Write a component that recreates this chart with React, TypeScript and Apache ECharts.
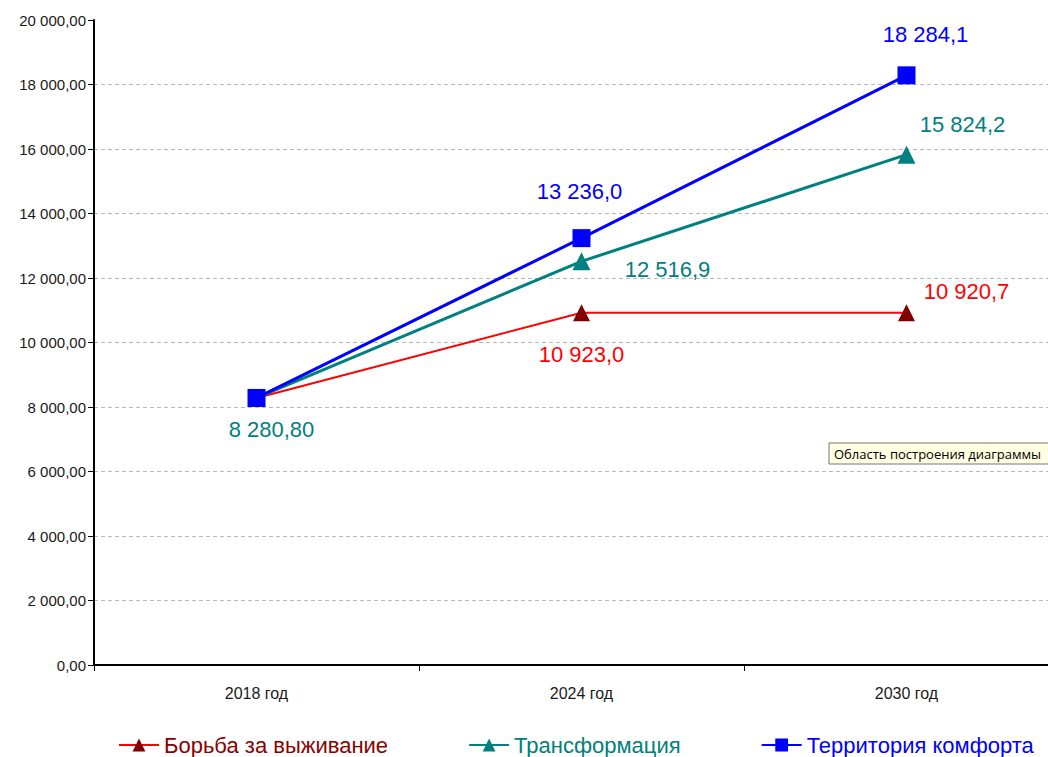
import React, { useEffect, useRef } from "react";
import * as echarts from "echarts";

const categories = ["2018 год", "2024 год", "2030 год"];
const survival = [8280.8, 10923.0, 10920.7];
const transformation = [8280.8, 12516.9, 15824.2];
const comfort = [8280.8, 13236.0, 18284.1];
const seriesNames = ["Борьба за выживание", "Трансформация", "Территория комфорта"];
const tooltipText = "Область построения диаграммы";

function fmt(v: number, d: number): string {
  const s = v.toFixed(d);
  const [i, f] = s.split(".");
  const ii = i.replace(/\B(?=(\d{3})+(?!\d))/g, " ");
  return f !== undefined ? ii + "," + f : ii;
}

const labelFont = { fontFamily: "Liberation Sans, Arial, sans-serif", fontSize: 22 };

function pt(value: number, color: string, offset: [number, number] | null, decimals = 1) {
  return {
    value,
    label: offset
      ? {
          show: true,
          position: "inside",
          offset,
          color,
          ...labelFont,
          formatter: () => fmt(value, decimals),
        }
      : { show: false },
  };
}

export default function App() {
  const ref = useRef<HTMLDivElement>(null);
  useEffect(() => {
    document.body.style.margin = "0";
    const chart = echarts.init(ref.current!, null, { renderer: "svg" });
    const red = "#ff0000";
    const teal = "#008080";
    const blue = "#0000ff";
    chart.setOption({
      animation: false,
      backgroundColor: "#ffffff",
      grid: { left: 94, top: 20, bottom: 92, right: 0, containLabel: false },
      xAxis: {
        type: "category",
        data: categories,
        boundaryGap: true,
        axisLine: { lineStyle: { color: "#000", width: 2 } },
        axisTick: { show: true, length: 6, alignWithLabel: false, lineStyle: { color: "#000" } },
        axisLabel: {
          margin: 20,
          color: "#1a1a1a",
          fontFamily: "Liberation Sans, Arial",
          fontSize: 16,
        },
        splitLine: { show: false },
      },
      yAxis: {
        type: "value",
        min: 0,
        max: 20000,
        interval: 2000,
        axisLine: { show: true, lineStyle: { color: "#000", width: 2 } },
        axisTick: { show: true, length: 6, lineStyle: { color: "#000" } },
        axisLabel: {
          margin: 8,
          color: "#1a1a1a",
          fontFamily: "Liberation Sans, Arial",
          fontSize: 15,
          formatter: (v: number) => fmt(v, 2),
        },
        splitLine: {
          show: true,
          showMaxLine: false,
          lineStyle: { color: "#b8b8b8", type: [4, 3], width: 1 },
        },
      },
      legend: {
        left: 118,
        top: 733,
        padding: 0,
        itemGap: 80,
        itemWidth: 40,
        itemHeight: 16,
        textStyle: { fontFamily: "Liberation Sans, Arial", fontSize: 22, lineHeight: 24 },
        data: [
          { name: seriesNames[0], textStyle: { color: "#8b0000" } },
          { name: seriesNames[1], textStyle: { color: "#00807a" } },
          { name: seriesNames[2], textStyle: { color: "#0000ff" } },
        ],
      },
      series: [
        {
          name: seriesNames[0],
          type: "line",
          symbol: "triangle",
          symbolSize: 17,
          lineStyle: { color: red, width: 2 },
          itemStyle: { color: "#800000" },
          data: [
            pt(survival[0], red, null),
            pt(survival[1], red, [0, 42]),
            pt(survival[2], red, [60, -21]),
          ],
        },
        {
          name: seriesNames[1],
          type: "line",
          symbol: "triangle",
          symbolSize: 18,
          lineStyle: { color: teal, width: 3 },
          itemStyle: { color: teal },
          data: [
            pt(transformation[0], teal, [15, 32], 2),
            pt(transformation[1], teal, [86, 8]),
            pt(transformation[2], teal, [56, -30]),
          ],
        },
        {
          name: seriesNames[2],
          type: "line",
          symbol: "rect",
          symbolSize: 18,
          lineStyle: { color: blue, width: 3 },
          itemStyle: { color: blue },
          data: [
            pt(comfort[0], blue, null),
            pt(comfort[1], blue, [-2, -47]),
            pt(comfort[2], blue, [19, -41]),
          ],
        },
      ],
      graphic: [
        {
          type: "rect",
          shape: { x: 829, y: 443, width: 240, height: 21 },
          style: { fill: "#ffffe1", stroke: "#767676", lineWidth: 1 },
          z: 100,
        },
        {
          type: "text",
          x: 834,
          y: 453.5,
          style: {
            text: tooltipText,
            fill: "#000",
            font: "13px 'Open Sans', 'Noto Sans', sans-serif",
            verticalAlign: "middle",
          },
          z: 101,
        },
      ],
    });
    return () => chart.dispose();
  }, []);
  return (
    <div style={{ width: 1048, height: 757, overflow: "hidden" }}>
      <div ref={ref} style={{ width: 1069, height: 757 }} />
    </div>
  );
}
